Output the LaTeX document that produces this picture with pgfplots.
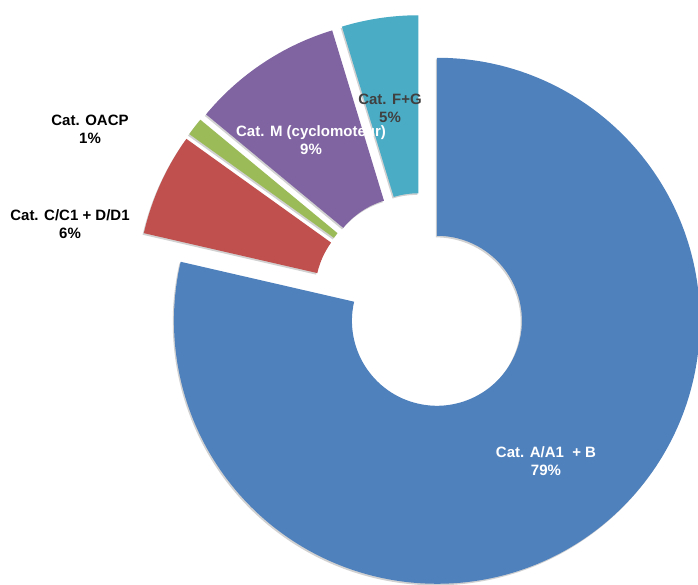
\documentclass[border=0pt]{standalone}
\usepackage{pgfplots}
\pgfplotsset{compat=1.18}
\usepackage{pgfplotstable}
\usetikzlibrary{calc}
\usepackage{fontspec}
\setmainfont{Liberation Sans}
\definecolor{cA}{HTML}{4F81BD}
\definecolor{cC}{HTML}{C0504D}
\definecolor{cO}{HTML}{9BBB59}
\definecolor{cM}{HTML}{8064A2}
\definecolor{cF}{HTML}{4BACC6}
\definecolor{lbl}{HTML}{404040}

\pgfplotstableread{
cat value
A 78.6
C 6.3
O 1.1
M 9.3
F 4.7
}\datatable

% #1 fill options, #2 cumulative start (%), #3 value (%)
\newcommand\drawslice[3]{%
  \pgfmathsetmacro\sa{90-3.6*(#2)}%
  \pgfmathsetmacro\sb{90-3.6*((#2)+(#3))}%
  \pgfmathsetmacro\sm{(\sa+\sb)/2}%
  \pgfmathsetmacro\sx{422+24*cos(\sm)}%
  \pgfmathsetmacro\sy{283+24*sin(\sm)}%
  \edef\doslice{%
    \noexpand\fill[#1] ($(axis cs:\sx,\sy)+(\sa:263pt)$) arc[start angle=\sa,end angle=\sb,radius=263pt]
      -- ($(axis cs:\sx,\sy)+(\sb:85pt)$) arc[start angle=\sb,end angle=\sa,radius=85pt] -- cycle;%
  }\doslice
}

\begin{document}
\begin{tikzpicture}
\pgfplotstablegetelem{0}{value}\of\datatable \edef\vA{\pgfplotsretval}
\pgfplotstablegetelem{1}{value}\of\datatable \edef\vB{\pgfplotsretval}
\pgfplotstablegetelem{2}{value}\of\datatable \edef\vC{\pgfplotsretval}
\pgfplotstablegetelem{3}{value}\of\datatable \edef\vD{\pgfplotsretval}
\pgfplotstablegetelem{4}{value}\of\datatable \edef\vE{\pgfplotsretval}
\pgfmathsetmacro\cB{\vA}
\pgfmathsetmacro\cC{\vA+\vB}
\pgfmathsetmacro\cD{\cC+\vC}
\pgfmathsetmacro\cE{\cD+\vD}
\begin{axis}[x=1pt,y=1pt,xmin=0,xmax=698,ymin=0,ymax=585,
  hide axis,scale only axis,clip=true]
\path[fill=white] (axis cs:0,0) rectangle (axis cs:698,585);
% shadows
\drawslice{black,opacity=0.18,xshift=-1.2pt,yshift=-1.6pt}{0}{\vA}
\drawslice{black,opacity=0.18,xshift=-1.2pt,yshift=-1.6pt}{\cB}{\vB}
\drawslice{black,opacity=0.18,xshift=-1.2pt,yshift=-1.6pt}{\cC}{\vC}
\drawslice{black,opacity=0.18,xshift=-1.2pt,yshift=-1.6pt}{\cD}{\vD}
\drawslice{black,opacity=0.18,xshift=-1.2pt,yshift=-1.6pt}{\cE}{\vE}
% slices
\drawslice{cA}{0}{\vA}
\drawslice{cC}{\cB}{\vB}
\drawslice{cO}{\cC}{\vC}
\drawslice{cM}{\cD}{\vD}
\drawslice{cF}{\cE}{\vE}
% labels
\tikzset{lab/.style={align=center,font=\fontsize{15}{18}\selectfont\bfseries,inner sep=0pt}}
\node[lab,text=white] at (axis cs:546,124) {Cat. A/A1~~+ B\\79\%};
\node[lab,text=white] at (axis cs:311,445) {Cat. M (cyclomoteur)\\9\%};
\node[lab,text=lbl] at (axis cs:390,477) {Cat. F+G\\5\%};
\node[lab,text=black] at (axis cs:90,456) {Cat. OACP\\1\%};
\node[lab,text=black] at (axis cs:70,361) {Cat. C/C1 + D/D1\\6\%};
\end{axis}
\end{tikzpicture}
\end{document}
